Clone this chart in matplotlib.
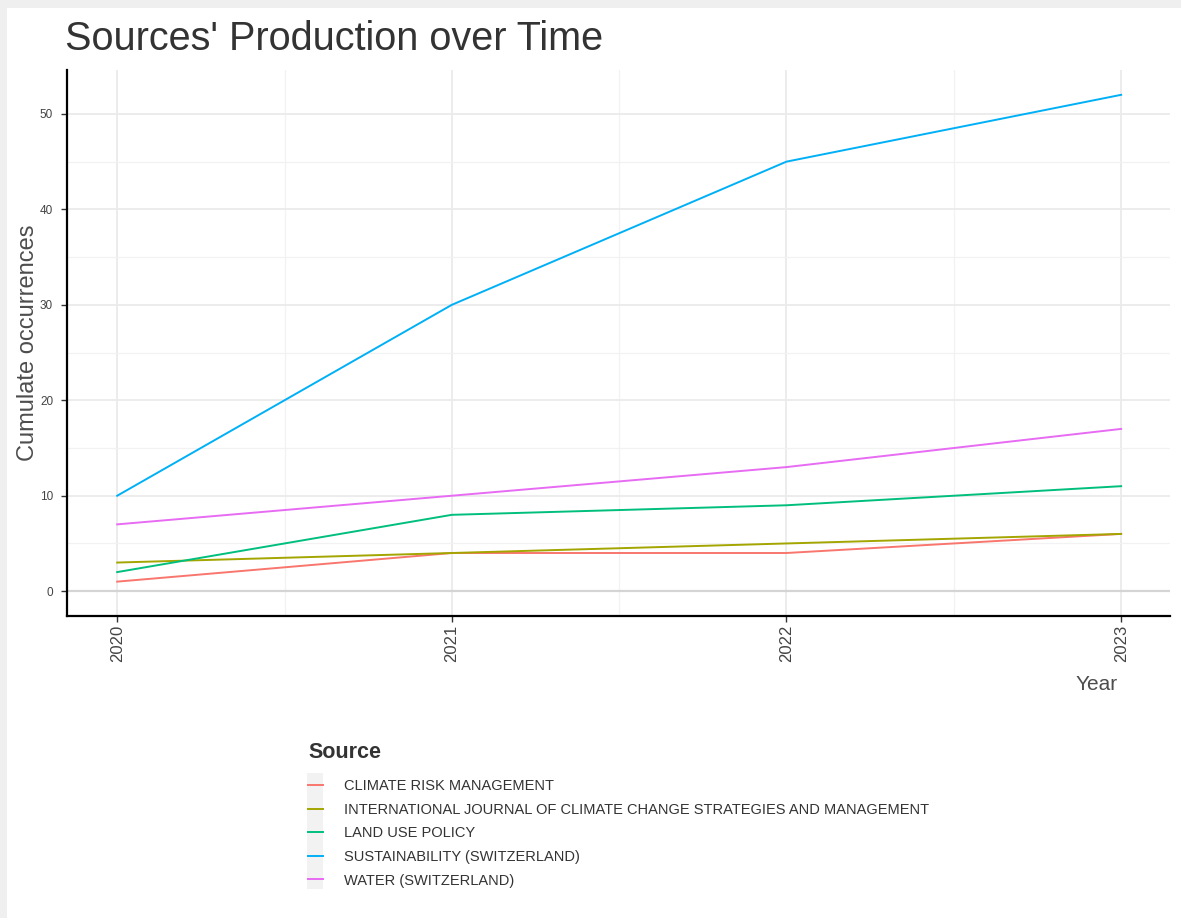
"""
Sources' production over time: cumulative occurrences per source, 2020-2023.
"""
import matplotlib
matplotlib.use("Agg")
import matplotlib.pyplot as plt
from matplotlib.patches import Rectangle
from matplotlib.ticker import MultipleLocator

plt.rcParams["font.family"] = ["Liberation Sans", "DejaVu Sans"]

# ── data ──────────────────────────────────────────────────────────────────────
YEARS = [2020, 2021, 2022, 2023]
SOURCES = ["CLIMATE RISK MANAGEMENT",
           "INTERNATIONAL JOURNAL OF CLIMATE CHANGE STRATEGIES AND MANAGEMENT",
           "LAND USE POLICY",
           "SUSTAINABILITY (SWITZERLAND)",
           "WATER (SWITZERLAND)"]
climate_risk = [1, 4, 4, 6]
ijccsm       = [3, 4, 5, 6]
land_use     = [2, 8, 9, 11]
sustain      = [10, 30, 45, 52]
water        = [7, 10, 13, 17]
SERIES = [climate_risk, ijccsm, land_use, sustain, water]
COLORS = ["#F8766D", "#A3A500", "#00BF7D", "#00B0F6", "#E76BF3"]

W, H = 1181, 918
fig = plt.figure(figsize=(W / 100, H / 100), dpi=100, facecolor="#efefef")
# white page inside the grey screenshot frame
fig.patches.append(Rectangle((7 / W, 0), 1 - 7 / W, 1 - 8 / H,
                             transform=fig.transFigure, facecolor="white",
                             edgecolor="none", zorder=-10))

ax = fig.add_axes([67 / W, 1 - 616 / H, (1170 - 67) / W, (616 - 70) / H])
ax.set_facecolor("white")

for vals, col, lab in zip(SERIES, COLORS, SOURCES):
    ax.plot(YEARS, vals, color=col, lw=1.4, label=lab, zorder=3)

ax.axhline(0, color="#d4d4d4", lw=1.6, zorder=1)

ax.set_xlim(2019.85, 2023.146)
ax.set_ylim(-2.6, 54.6)
ax.set_xticks(YEARS)
ax.xaxis.set_minor_locator(MultipleLocator(0.5))
ax.yaxis.set_major_locator(MultipleLocator(10))
ax.yaxis.set_minor_locator(MultipleLocator(5))
ax.grid(which="major", color="#ebebeb", lw=1.3, zorder=0)
ax.grid(which="minor", color="#f2f2f2", lw=0.9, zorder=0)
ax.set_axisbelow(True)

for s in ["top", "right"]:
    ax.spines[s].set_visible(False)
for s in ["left", "bottom"]:
    ax.spines[s].set_color("black")
    ax.spines[s].set_linewidth(1.6)
ax.tick_params(which="minor", length=0)
ax.tick_params(which="major", length=4, width=1, color="#333333",
               labelcolor="#444444")
ax.tick_params(axis="y", labelsize=8.5, pad=6)
ax.tick_params(axis="x", labelsize=12, pad=2, labelrotation=90)

ax.set_ylabel("Cumulate occurrences", fontsize=17, color="#4d4d4d")
ax.yaxis.set_label_coords(-(67 - 39) / (1170 - 67), 0.5)
ax.set_xlabel("Year", fontsize=15, color="#4d4d4d")
ax.xaxis.set_label_coords((1118 - 67) / (1170 - 67), -(684 - 616) / (616 - 70))
ax.xaxis.label.set_ha("right")
ax.xaxis.label.set_va("center")

fig.text(65 / W, 1 - 39 / H, "Sources' Production over Time", fontsize=28.5,
         color="#333333", ha="left", va="center")

# legend with grey key background
fig.patches.append(Rectangle((307 / W, 1 - 889 / H), 16 / W, 116 / H,
                             transform=fig.transFigure, facecolor="#f2f2f2",
                             edgecolor="none", zorder=1))
fig.text(308 / W, 1 - 753 / H, "Source", fontsize=15.5, fontweight="bold",
         color="#333333", ha="left", va="center")
handles, labels = ax.get_legend_handles_labels()
leg = fig.legend(handles, labels, loc="upper left",
                 bbox_to_anchor=(308 / W, 1 - 779 / H), frameon=False,
                 fontsize=10.5, handlelength=1.0, handletextpad=1.45,
                 labelspacing=0.66, borderpad=0, borderaxespad=0)
leg.set_zorder(5)
for t in leg.get_texts():
    t.set_color("#333333")

fig.savefig("out.png", dpi=100, facecolor=fig.get_facecolor())
